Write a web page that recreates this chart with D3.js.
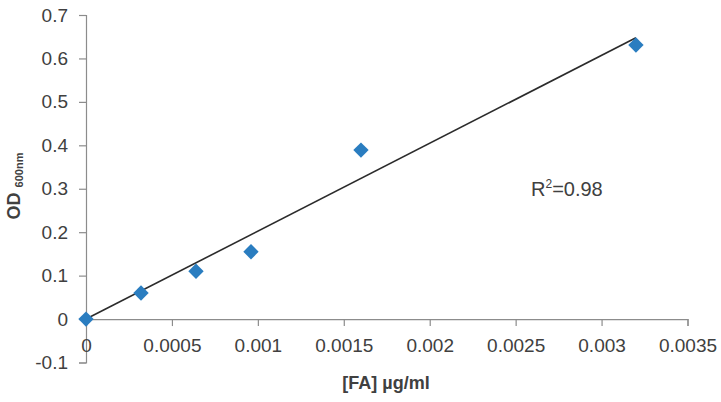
<!DOCTYPE html>
<html>
<head>
<meta charset="utf-8">
<script src="https://cdn.jsdelivr.net/npm/d3@7"></script>
<style>
html,body{margin:0;padding:0;background:#fff;}
svg text{font-family:"Liberation Sans",Arial,sans-serif;fill:#404040;}
</style>
</head>
<body>
<svg id="chart" width="721" height="402"></svg>
<script>
const concentrations = [0, 0.00032, 0.00064, 0.00096, 0.0016, 0.0032];
const odValues = [0, 0.06, 0.11, 0.155, 0.389, 0.631];
const xTicks = [0, 0.0005, 0.001, 0.0015, 0.002, 0.0025, 0.003, 0.0035];
const xTickLabels = ["0", "0.0005", "0.001", "0.0015", "0.002", "0.0025", "0.003", "0.0035"];
const yTicks = [-0.1, 0, 0.1, 0.2, 0.3, 0.4, 0.5, 0.6, 0.7];
const yTickLabels = ["-0.1", "0", "0.1", "0.2", "0.3", "0.4", "0.5", "0.6", "0.7"];
const r2Label = "0.98";

const svg = d3.select("#chart");
const x = d3.scaleLinear().domain([0, 0.0035]).range([86, 687.5]);
const y = d3.scaleLinear().domain([-0.1, 0.7]).range([362.5, 15]);
const axisColor = "#8c8c8c";

// Y axis
const yAxis = svg.append("g").attr("transform", `translate(${x(0)},0)`)
  .call(d3.axisLeft(y).tickValues(yTicks).tickSize(7).tickPadding(11)
    .tickFormat((d, i) => yTickLabels[i]));
yAxis.select(".domain").attr("stroke", axisColor).attr("stroke-width", 1.2);
yAxis.selectAll(".tick line").attr("stroke", axisColor).attr("stroke-width", 1.2);
yAxis.selectAll(".tick text").attr("font-size", 19).attr("fill", "#404040")
  .attr("font-family", "Liberation Sans, Arial, sans-serif");

// X axis at y=0
const xAxis = svg.append("g").attr("transform", `translate(0,${y(0)})`)
  .call(d3.axisBottom(x).tickValues(xTicks).tickSize(7).tickPadding(12)
    .tickFormat((d, i) => xTickLabels[i]));
xAxis.select(".domain").attr("stroke", axisColor).attr("stroke-width", 1.2);
xAxis.selectAll(".tick line").attr("stroke", axisColor).attr("stroke-width", 1.2);
xAxis.selectAll(".tick text").attr("font-size", 19).attr("fill", "#404040")
  .attr("font-family", "Liberation Sans, Arial, sans-serif");

// Linear trendline through origin (least squares)
let sxy = 0, sxx = 0;
concentrations.forEach((c, i) => { sxy += c * odValues[i]; sxx += c * c; });
const slope = sxy / sxx;
const xMax = d3.max(concentrations);
svg.append("line")
  .attr("x1", x(0)).attr("y1", y(0))
  .attr("x2", x(xMax)).attr("y2", y(slope * xMax))
  .attr("stroke", "#2b2b2b").attr("stroke-width", 1.6);

// Diamond markers
const diamond = d3.symbol().type(d3.symbolDiamond2).size(150);
svg.append("g").selectAll("path")
  .data(concentrations.map((c, i) => [c, odValues[i]]))
  .join("path")
  .attr("d", diamond)
  .attr("transform", d => `translate(${x(d[0])},${y(d[1])})`)
  .attr("fill", "#2a7dc0");

// Axis titles
svg.append("text")
  .attr("x", 386).attr("y", 389)
  .attr("text-anchor", "middle")
  .attr("font-size", 18).attr("font-weight", "bold")
  .text("[FA] µg/ml");

const yt = svg.append("text")
  .attr("transform", "translate(20,186) rotate(-90)")
  .attr("text-anchor", "middle")
  .attr("font-weight", "bold");
yt.append("tspan").attr("font-size", 18).text("OD ");
yt.append("tspan").attr("font-size", 11).attr("dy", 3).text("600nm");

// R² annotation
const rt = svg.append("text").attr("x", 531).attr("y", 196).attr("font-size", 20);
rt.append("tspan").text("R");
rt.append("tspan").attr("font-size", 12).attr("dy", -8).text("2");
rt.append("tspan").attr("dy", 8).text("=" + r2Label);
</script>
</body>
</html>
